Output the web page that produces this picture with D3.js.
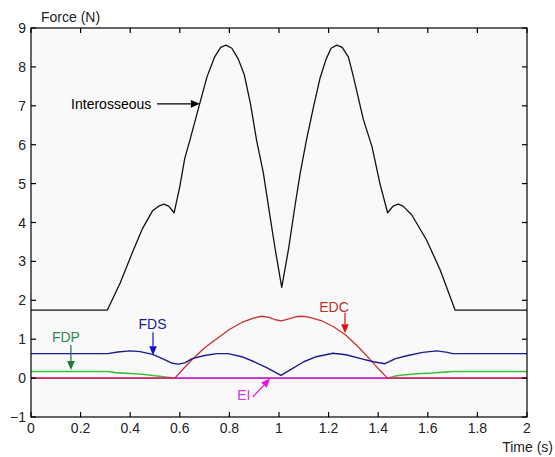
<!DOCTYPE html>
<html>
<head>
<meta charset="utf-8">
<script src="https://cdn.jsdelivr.net/npm/d3@7"></script>
<style>
  html, body { margin: 0; padding: 0; background: #ffffff; }
  svg { display: block; }
  text { font-family: "Liberation Sans", Arial, sans-serif; }
</style>
</head>
<body>
<svg id="chart" width="555" height="457"></svg>
<script>
// Muscle force traces, [time (s), force (N)]
const interosseous = [
  [0, 1.75], [0.308, 1.75], [0.36, 2.45], [0.41, 3.25], [0.45, 3.85], [0.49, 4.3],
  [0.515, 4.42], [0.535, 4.47], [0.555, 4.42], [0.577, 4.25], [0.60, 4.92], [0.62, 5.65],
  [0.64, 6.1], [0.68, 7.05], [0.71, 7.75], [0.74, 8.25], [0.765, 8.5], [0.786, 8.56],
  [0.81, 8.48], [0.836, 8.2], [0.86, 7.8], [0.885, 7.05], [0.91, 6.1], [0.937, 5.27],
  [0.964, 4.15], [0.985, 3.3], [1.011, 2.33], [1.038, 3.3], [1.065, 4.45], [1.085, 5.25],
  [1.11, 6.1], [1.14, 7.0], [1.165, 7.7], [1.19, 8.2], [1.21, 8.48], [1.233, 8.56],
  [1.255, 8.5], [1.28, 8.25], [1.30, 7.75], [1.34, 6.65], [1.375, 5.95], [1.407, 5.0],
  [1.438, 4.25], [1.46, 4.42], [1.481, 4.47], [1.50, 4.42], [1.535, 4.2], [1.595, 3.55],
  [1.65, 2.78], [1.71, 1.75], [2, 1.75]
];
const fds = [
  [0, 0.63], [0.31, 0.63], [0.35, 0.67], [0.40, 0.70], [0.44, 0.68], [0.49, 0.61],
  [0.53, 0.5], [0.57, 0.38], [0.595, 0.36], [0.62, 0.39], [0.65, 0.5], [0.70, 0.58],
  [0.75, 0.63], [0.795, 0.63], [0.85, 0.55], [0.90, 0.42], [0.95, 0.27], [1.008, 0.07],
  [1.05, 0.23], [1.10, 0.42], [1.15, 0.55], [1.218, 0.64], [1.27, 0.6], [1.33, 0.5],
  [1.38, 0.42], [1.427, 0.37], [1.47, 0.5], [1.52, 0.58], [1.58, 0.66], [1.636, 0.7],
  [1.68, 0.66], [1.70, 0.63], [2, 0.63]
];
const fdp = [
  [0, 0.17], [0.31, 0.17], [0.34, 0.14], [0.40, 0.12], [0.45, 0.1], [0.50, 0.06],
  [0.55, 0.02], [0.58, 0], [1.44, 0], [1.475, 0.06], [1.5, 0.08], [1.555, 0.11],
  [1.62, 0.13], [1.68, 0.16], [1.7, 0.17], [2, 0.17]
];
const edc = [
  [0, 0], [0.58, 0], [0.62, 0.28], [0.65, 0.48], [0.70, 0.78], [0.75, 1.02],
  [0.80, 1.25], [0.85, 1.43], [0.90, 1.55], [0.93, 1.59], [0.96, 1.56], [0.985, 1.5],
  [1.01, 1.47], [1.04, 1.52], [1.07, 1.58], [1.09, 1.59], [1.12, 1.57], [1.17, 1.48],
  [1.22, 1.32], [1.27, 1.1], [1.32, 0.8], [1.367, 0.48], [1.407, 0.2], [1.437, 0], [2, 0]
];
const ei = [[0, 0], [2, 0]];

const xTicks = [0, 0.2, 0.4, 0.6, 0.8, 1, 1.2, 1.4, 1.6, 1.8, 2];
const yTicks = [-1, 0, 1, 2, 3, 4, 5, 6, 7, 8, 9];

// Callouts: label position and arrow [from, to] in data units
const callouts = [
  { text: "Interosseous", color: "#000000", textColor: "#000000", at: [0.485, 7.05], anchor: "end",
    from: [0.508, 7.05], to: [0.681, 7.05] },
  { text: "FDS", color: "#1010c8", textColor: "#1a1a9a", at: [0.49, 1.39], anchor: "middle",
    from: [0.492, 1.18], to: [0.492, 0.59] },
  { text: "FDP", color: "#1f7a3a", textColor: "#2e8b57", at: [0.141, 1.05], anchor: "middle",
    from: [0.161, 0.85], to: [0.161, 0.21] },
  { text: "EDC", color: "#e01010", textColor: "#c03030", at: [1.222, 1.84], anchor: "middle",
    from: [1.266, 1.68], to: [1.266, 1.15] },
  { text: "EI", color: "#e010e0", textColor: "#d040d0", at: [0.858, -0.44], anchor: "middle",
    from: [0.895, -0.48], to: [0.964, -0.01] }
];

const svg = d3.select("#chart");
const plotL = 31, plotR = 527, plotT = 28, plotB = 417;

const x = d3.scaleLinear().domain([0, 2]).range([plotL, plotR]);
const y = d3.scaleLinear().domain([-1, 9]).range([plotB, plotT]);

// Axes background
svg.append("rect")
  .attr("x", plotL).attr("y", plotT)
  .attr("width", plotR - plotL).attr("height", plotB - plotT)
  .attr("fill", "#f9f9f9");

const line = d3.line().x(d => x(d[0])).y(d => y(d[1]));

// Traces in stacking order: FDP, then EI, then EDC over the zero line
const traces = [
  { data: fdp, color: "#3cc03c", width: 1.6 },
  { data: ei, color: "#e020e0", width: 1.6 },
  { data: edc, color: "#cc3030", width: 1.3 },
  { data: fds, color: "#1c1c8c", width: 1.4 },
  { data: interosseous, color: "#111111", width: 1.3 }
];
traces.forEach(s => {
  svg.append("path")
    .attr("d", line(s.data))
    .attr("fill", "none")
    .attr("stroke", s.color)
    .attr("stroke-width", s.width)
    .attr("stroke-linejoin", "round");
});

// Frame with inward ticks on all four sides
const tickLen = 5;
const axisG = svg.append("g").attr("stroke", "#000").attr("stroke-width", 1.2).attr("fill", "none");
axisG.append("rect")
  .attr("x", plotL).attr("y", plotT)
  .attr("width", plotR - plotL).attr("height", plotB - plotT);
xTicks.forEach(t => {
  const px = x(t);
  axisG.append("line").attr("x1", px).attr("x2", px).attr("y1", plotB).attr("y2", plotB - tickLen);
  axisG.append("line").attr("x1", px).attr("x2", px).attr("y1", plotT).attr("y2", plotT + tickLen);
});
yTicks.forEach(v => {
  const py = y(v);
  axisG.append("line").attr("x1", plotL).attr("x2", plotL + tickLen).attr("y1", py).attr("y2", py);
  axisG.append("line").attr("x1", plotR).attr("x2", plotR - tickLen).attr("y1", py).attr("y2", py);
});

const fmt = d3.format("~g");
svg.append("g").selectAll("text").data(xTicks).join("text")
  .attr("x", d => x(d)).attr("y", plotB + 16)
  .attr("text-anchor", "middle")
  .attr("font-size", 14).attr("fill", "#222")
  .text(d => fmt(d));
svg.append("g").selectAll("text").data(yTicks).join("text")
  .attr("x", plotL - 5).attr("y", d => y(d) + 5)
  .attr("text-anchor", "end")
  .attr("font-size", 14).attr("fill", "#222")
  .text(d => fmt(d));

svg.append("text").attr("x", 41).attr("y", 22)
  .attr("font-size", 14).attr("fill", "#222").text("Force (N)");
svg.append("text").attr("x", 553).attr("y", 452)
  .attr("text-anchor", "end")
  .attr("font-size", 14).attr("fill", "#222").text("Time (s)");

// Callout arrows with filled heads
function arrow(c) {
  const x1 = x(c.from[0]), y1 = y(c.from[1]);
  const x2 = x(c.to[0]), y2 = y(c.to[1]);
  const ang = Math.atan2(y2 - y1, x2 - x1);
  const hl = 9, hw = 3.8;
  const bx = x2 - hl * Math.cos(ang), by = y2 - hl * Math.sin(ang);
  svg.append("line")
    .attr("x1", x1).attr("y1", y1).attr("x2", bx).attr("y2", by)
    .attr("stroke", c.color).attr("stroke-width", 1.2);
  const px = -Math.sin(ang) * hw, py = Math.cos(ang) * hw;
  svg.append("path")
    .attr("d", `M${x2},${y2}L${bx + px},${by + py}L${bx - px},${by - py}Z`)
    .attr("fill", c.color);
}
callouts.forEach(c => {
  arrow(c);
  svg.append("text")
    .attr("x", x(c.at[0])).attr("y", y(c.at[1]) + 5)
    .attr("text-anchor", c.anchor)
    .attr("font-size", 14).attr("fill", c.textColor)
    .text(c.text);
});
</script>
</body>
</html>
